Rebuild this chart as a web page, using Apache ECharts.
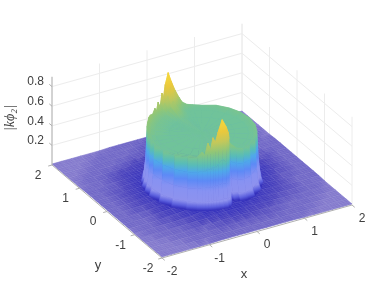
<!DOCTYPE html>
<html><head><meta charset="utf-8">
<style>html,body{margin:0;padding:0;background:#fff}#c{width:388px;height:291px}</style>
<script src="https://cdn.jsdelivr.net/npm/echarts@6/dist/echarts.min.js"></script>
</head><body><div id="c"></div>
<script>
// ---- tick labels
const xTicks=[-2,-1,0,1,2];
const yTicks=[2,1,0,-1,-2];
const zTicks=[0.2,0.4,0.6,0.8];
const zTop=0.9;
// ---- floor heights |k phi2| in units of 0.005, rows y=2..-2, columns x=-2..2 (step 0.2)
const floorStep=0.2, floorUnit=0.005;
const floorRows=[
[2,2,2,2,2,2,3,3,3,3,3,3,3,3,3,2,2,2,2,2,2],
[2,2,2,2,3,3,3,3,3,4,4,4,3,3,3,3,3,2,2,2,2],
[2,2,2,3,3,3,3,3,4,4,4,4,4,3,3,3,3,3,2,2,2],
[2,2,3,3,3,3,4,4,4,5,5,5,4,4,4,3,3,3,3,2,2],
[2,3,3,3,4,4,5,6,6,7,7,7,6,6,5,4,4,3,3,3,2],
[2,3,3,4,5,6,6,7,8,8,8,8,8,7,6,5,4,4,3,3,2],
[3,3,3,4,5,7,7,8,8,8,8,8,8,8,7,6,5,4,3,3,3],
[3,3,4,4,6,7,8,8,8,8,8,8,8,8,8,7,5,4,3,3,3],
[3,3,4,5,6,8,8,8,8,8,8,8,8,8,8,7,6,4,4,3,3],
[3,3,4,5,7,8,8,8,8,8,8,8,8,8,8,8,6,5,4,3,3],
[3,3,4,5,7,8,8,8,8,8,8,8,8,8,8,8,7,5,4,3,3],
[3,3,4,5,6,8,8,8,8,8,8,8,8,8,8,8,7,5,4,3,3],
[3,3,4,4,6,8,8,8,8,8,8,8,8,8,8,7,6,4,4,3,3],
[3,3,3,4,6,7,8,8,8,8,8,8,8,8,8,7,5,4,3,3,3],
[3,3,3,4,5,6,8,8,8,8,8,8,8,8,7,6,5,4,3,3,3],
[2,3,3,4,4,5,6,8,8,8,8,8,8,7,6,5,4,4,3,3,2],
[2,3,3,3,4,4,5,6,7,7,8,7,6,6,5,4,4,3,3,3,2],
[2,2,3,3,3,4,4,4,5,5,6,5,5,4,4,3,3,3,3,2,2],
[2,2,2,3,3,3,3,4,4,4,4,4,4,4,3,3,3,3,2,2,2],
[2,2,2,2,3,3,3,3,3,3,3,3,3,3,3,3,3,2,2,2,2],
[2,2,2,2,2,2,3,3,3,3,3,3,3,3,3,2,2,2,2,2,2]];
// ---- raised disc read by angle around its rim
const thetaDeg=[-180,-165,-150,-135,-125,-120,-117,-114,-111,-108.5,
-106,-103,-98.5,-94,-90,-87,-84,-80,-76,-70,
-60,-45,-30,-15,0,15,30,45,60,70,
76,81,85,89.5,94,98,102,104.5,106.8,109,
111,113,116,119,124,130,135,142,150,160,170];
const rimRadius=[1,1,1,1,1,1,1,1,1,1,
1,1,1,1,.96,.9,.78,.8,.9,.98,
1,1,1,1,1,1,1,1,1,1,
1,1,1,1,1,1,1,1,1,1,
1,1,1,1,1,1,1,1,1,1,1];
const zCenter=.53;
const z60=[.53,.53,.53,.53,.53,.53,.53,.53,.53,.53,
.53,.53,.54,.54,.53,.53,.53,.53,.53,.53,
.53,.53,.53,.53,.53,.53,.53,.53,.53,.53,
.53,.53,.53,.54,.54,.55,.54,.54,.54,.53,
.53,.53,.53,.53,.53,.53,.53,.53,.53,.53,.53];
const z85=[.53,.53,.53,.53,.53,.54,.54,.55,.54,.56,
.55,.57,.60,.58,.56,.55,.54,.54,.53,.53,
.53,.53,.53,.53,.53,.53,.53,.53,.53,.53,
.53,.54,.56,.59,.63,.67,.62,.58,.59,.56,
.55,.56,.55,.55,.55,.55,.55,.55,.55,.54,.53];
const z93=[.53,.53,.53,.54,.54,.56,.55,.60,.57,.62,
.60,.66,.74,.69,.64,.60,.57,.55,.54,.53,
.53,.53,.54,.54,.54,.54,.54,.54,.53,.54,
.54,.56,.60,.66,.74,.80,.72,.64,.66,.60,
.58,.60,.57,.58,.57,.58,.58,.57,.57,.55,.54];
const zRim=[.54,.54,.54,.55,.55,.61,.57,.70,.63,.75,
.70,.80,.92,.84,.76,.69,.63,.59,.555,.54,
.54,.54,.55,.55,.55,.55,.55,.55,.54,.55,
.56,.59,.65,.73,.83,.93,.82,.70,.75,.65,
.62,.68,.60,.64,.60,.62,.62,.60,.60,.57,.55];
const zWall1=[.40,.40,.40,.40,.40,.42,.41,.44,.42,.46,
.44,.48,.52,.48,.45,.43,.42,.41,.40,.40,
.40,.40,.40,.40,.40,.40,.40,.40,.40,.40,
.40,.41,.43,.46,.50,.54,.50,.46,.47,.44,
.43,.45,.42,.43,.42,.42,.42,.42,.42,.41,.40];
const zWall2=[.25,.25,.24,.24,.24,.25,.25,.26,.25,.26,
.26,.27,.28,.27,.26,.25,.24,.24,.24,.24,
.24,.25,.25,.25,.25,.25,.25,.25,.25,.25,
.25,.25,.26,.27,.28,.29,.28,.27,.27,.26,
.26,.26,.26,.26,.25,.25,.25,.25,.25,.25,.25];
const zWall3=[.11,.11,.11,.11,.11,.11,.11,.12,.11,.12,
.12,.12,.13,.12,.12,.11,.11,.11,.11,.11,
.11,.11,.11,.11,.11,.11,.11,.11,.11,.11,
.11,.11,.11,.12,.12,.13,.12,.12,.12,.11,
.11,.11,.11,.11,.11,.11,.11,.11,.11,.11,.11];
const zWall4=[.04,.04,.04,.04,.04,.04,.04,.04,.04,.04,
.04,.04,.05,.04,.04,.04,.04,.04,.04,.04,
.04,.04,.04,.04,.04,.04,.04,.04,.04,.04,
.04,.04,.04,.04,.05,.05,.04,.04,.04,.04,
.04,.04,.04,.04,.04,.04,.04,.04,.04,.04,.04];

// ---- view: orthographic projection onto the page
const origin=[202,185], ex=[47.5,-13.25], ey=[-27.5,-23.25], ezY=-98;
const project=(x,y,z)=>[origin[0]+ex[0]*x+ey[0]*y, origin[1]+ex[1]*x+ey[1]*y+ezY*z];
const depth=(x,y)=>27.5*x+47.5*y;

// ---- colour by height
const ramp=[[0,'#8a80d0'],[.01,'#8278cc'],[.015,'#6f66c6'],[.025,'#4c44bc'],[.04,'#3430bc'],[.07,'#5c60de'],
[.11,'#8e92ee'],[.22,'#8792f2'],[.32,'#5d8af6'],[.40,'#4fa8ea'],[.47,'#58bcb8'],[.53,'#70c39a'],
[.60,'#8fc678'],[.70,'#c4c85a'],[.80,'#eac83c'],[.93,'#f8dc3c']];
const rgb=h=>[1,3,5].map(i=>parseInt(h.substr(i,2),16));
function colorAt(z){
  if(z<=ramp[0][0])return ramp[0][1];
  for(let i=1;i<ramp.length;i++){ if(z<=ramp[i][0]){
    const t=(z-ramp[i-1][0])/(ramp[i][0]-ramp[i-1][0]),a=rgb(ramp[i-1][1]),b=rgb(ramp[i][1]);
    return 'rgb('+a.map((v,k)=>Math.round(v+(b[k]-v)*t)).join(',')+')'; } }
  return ramp[ramp.length-1][1];
}
const mean2=(p,q)=>[(p[0]+q[0])/2,(p[1]+q[1])/2,(p[2]+q[2])/2];
function fillFor(corners,coordOf){
  const s=corners.slice().sort((p,q)=>p[2]-q[2]);
  const lo=mean2(s[0],s[1]),hi=mean2(s[2],s[3]);
  if(hi[2]-lo[2]<1e-4)return colorAt(hi[2]);
  const a=coordOf(lo),b=coordOf(hi);
  if(Math.hypot(a[0]-b[0],a[1]-b[1])<.5)return colorAt((hi[2]+lo[2])/2);
  const stops=[{offset:0,color:colorAt(lo[2])}];
  ramp.forEach(r=>{if(r[0]>lo[2]&&r[0]<hi[2])stops.push({offset:(r[0]-lo[2])/(hi[2]-lo[2]),color:r[1]});});
  stops.push({offset:1,color:colorAt(hi[2])});
  return new echarts.graphic.LinearGradient(a[0],a[1],b[0],b[1],stops,true);
}

// ---- cells
const floorCells=[];
for(let r=0;r<floorRows.length-1;r++)for(let c=floorRows[0].length-2;c>=0;c--){
  const P=(rr,cc)=>[-2+cc*floorStep,2-rr*floorStep,floorRows[rr][cc]*floorUnit];
  floorCells.push([P(r,c),P(r,c+1),P(r+1,c+1),P(r+1,c)]);
}
const ringScale=[0,.6,.85,.93,1,1,1,1,1];
const ringOffset=[0,0,0,0,0,.012,.03,.06,.11];
const ringRows=[thetaDeg.map(()=>zCenter),z60,z85,z93,zRim,zWall1,zWall2,zWall3,zWall4];
const discPoint=(ring,t)=>{
  const a=thetaDeg[t]*Math.PI/180, r=rimRadius[t]*ringScale[ring]+ringOffset[ring];
  return [r*Math.cos(a),r*Math.sin(a),ringRows[ring][t]];
};
const discCells=[];
for(let ring=0;ring<ringRows.length-1;ring++)for(let t=0;t<thetaDeg.length;t++){
  const u=(t+1)%thetaDeg.length;
  discCells.push([discPoint(ring,t),discPoint(ring,u),discPoint(ring+1,u),discPoint(ring+1,t)]);
}
const cellDepth=c=>c.reduce((s,p)=>s+depth(p[0],p[1]),0)/4;
discCells.sort((a,b)=>cellDepth(b)-cellDepth(a));

function surfaceSeries(cells,z){
  return {type:'custom',coordinateSystem:'cartesian2d',silent:true,animation:false,z,clip:false,
    data:cells.map((c,i)=>[i,0]),
    renderItem(p,api){
      const cell=cells[p.dataIndex];
      const coordOf=q=>api.coord(project(q[0],q[1],q[2]));
      const fill=fillFor(cell,coordOf);
      return {type:'polygon',shape:{points:cell.map(coordOf)},
        style:{fill,stroke:fill,lineWidth:.6}};
    }};
}
function segmentSeries(segs,color,width,z){
  return {type:'custom',coordinateSystem:'cartesian2d',silent:true,animation:false,z,clip:false,
    data:segs.map((s,i)=>[i,0]),
    renderItem(p,api){
      const s=segs[p.dataIndex],a=api.coord(project(...s[0])),b=api.coord(project(...s[1]));
      return {type:'line',shape:{x1:a[0],y1:a[1],x2:b[0],y2:b[1]},style:{stroke:color,lineWidth:width}};
    }};
}
// walls
const wallSegs=[];
xTicks.forEach(x=>wallSegs.push([[x,2,0],[x,2,zTop]]));
yTicks.forEach(y=>wallSegs.push([[2,y,0],[2,y,zTop]]));
zTicks.forEach(z=>{wallSegs.push([[-2,2,z],[2,2,z]]);wallSegs.push([[2,2,z],[2,-2,z]]);});
// fine floor mesh
const meshSegs=[];
for(let k=0;k<=64;k++){const v=-2+k/16;
  meshSegs.push([[v,2,0],[v,-2,0]]);meshSegs.push([[-2,v,0],[2,v,0]]);}
// axes
const axisSegs=[[[-2,2,0],[-2,-2,0]],[[-2,-2,0],[2,-2,0]],[[-2,2,0],[-2,2,zTop]]];
xTicks.forEach(x=>axisSegs.push([[x,-2,0],[x,-2.1,0]]));
yTicks.forEach(y=>axisSegs.push([[-2,y,0],[-2.08,y,0]]));
zTicks.forEach(z=>axisSegs.push([[-2,2,z],[-2,2.1,z]]));
// labels
const INK='#404040';
const texts=[];
xTicks.forEach(x=>{const p=project(x,-2,0);texts.push({s:String(x),x:p[0]+10,y:p[1]+13.5,a:'center'});});
yTicks.forEach(y=>{const p=project(-2,y,0);texts.push({s:String(y),x:p[0]-14,y:p[1]+10.5,a:'center'});});
zTicks.forEach(z=>{const p=project(-2,2,z);texts.push({s:z.toFixed(1),x:p[0]-8,y:p[1]-4.5,a:'right'});});
texts.push({s:'x',x:244,y:274,a:'center',f:'13px "Liberation Sans"'});
texts.push({s:'y',x:98,y:265,a:'center',f:'13px "Liberation Sans"'});
texts.push({s:'|k\u03d5\u2082|',x:10,y:118,a:'center',f:'italic 14px "Liberation Serif"',r:Math.PI/2});

const chart=echarts.init(document.getElementById('c'),null,{renderer:'canvas',width:388,height:291});
chart.setOption({
  animation:false,backgroundColor:'#fff',
  grid:{left:0,right:0,top:0,bottom:0},
  xAxis:{type:'value',min:0,max:388,show:false},
  yAxis:{type:'value',min:0,max:291,inverse:true,show:false},
  series:[
    segmentSeries(wallSegs,'#ececec',1,1),
    surfaceSeries(floorCells,2),
    segmentSeries(meshSegs,'rgba(255,255,255,0.13)',.5,3),
    segmentSeries(axisSegs,'#b0b0b0',1,3),
    surfaceSeries(discCells,4),
    {type:'custom',coordinateSystem:'cartesian2d',silent:true,animation:false,z:5,clip:false,
     data:texts.map((t,i)=>[i,0]),
     renderItem(p,api){
       const t=texts[p.dataIndex],c=api.coord([t.x,t.y]);
       return {type:'text',x:c[0],y:c[1],rotation:t.r||0,
         style:{text:t.s,x:0,y:0,fill:INK,font:t.f||'12px "Liberation Sans"',align:t.a,verticalAlign:'middle'}};
     }}
  ]
});
</script></body></html>
